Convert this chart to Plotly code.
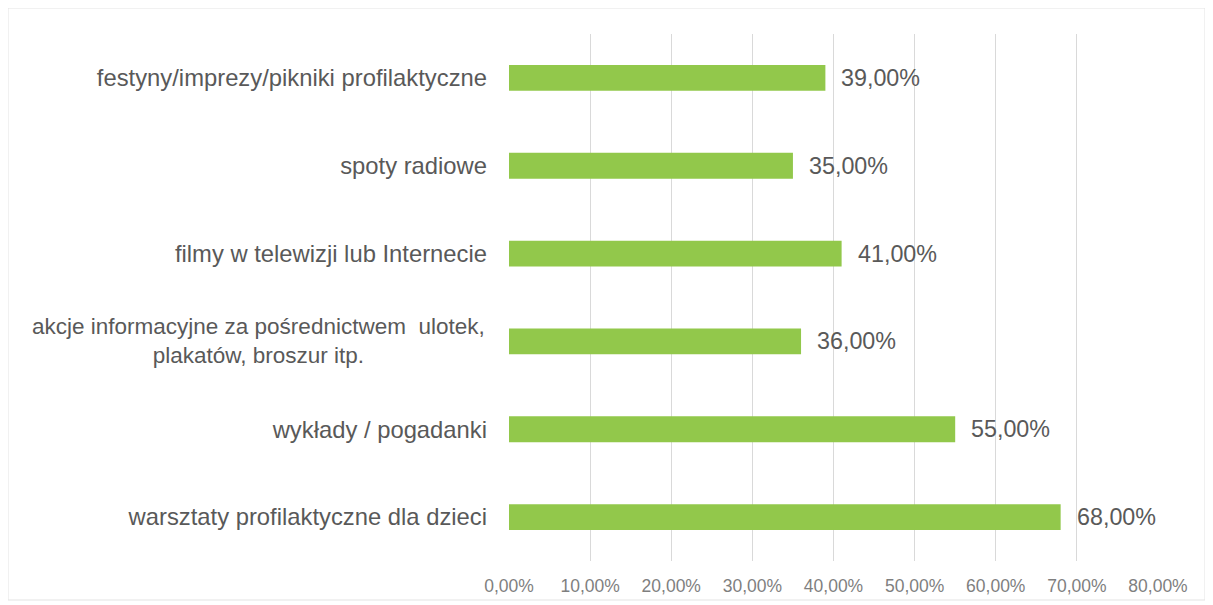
import plotly.graph_objects as go

categories = [
    "festyny/imprezy/pikniki profilaktyczne",
    "spoty radiowe",
    "filmy w telewizji lub Internecie",
    "akcje informacyjne za pośrednictwem  ulotek,<br>plakatów, broszur itp.",
    "wykłady / pogadanki",
    "warsztaty profilaktyczne dla dzieci",
]
values = [39, 35, 41, 36, 55, 68]
value_labels = ["39,00%", "35,00%", "41,00%", "36,00%", "55,00%", "68,00%"]
tick_vals = [0, 10, 20, 30, 40, 50, 60, 70, 80]
tick_text = ["0,00%", "10,00%", "20,00%", "30,00%", "40,00%", "50,00%", "60,00%", "70,00%", "80,00%"]

FONT = "Liberation Sans, Arial, sans-serif"
TXT = "#595959"

# the multi-line label is drawn centred as an annotation; others as tick labels
ylabels = ["" if "<br>" in c else c for c in categories]

fig = go.Figure(go.Bar(
    x=values, y=categories, orientation="h",
    marker=dict(color="#92C84B", line=dict(width=0)),
    hoverinfo="x+y",
))

W, H = 1205, 597
L, R, T, B = 501, 55, 26, 44
pw, ph = W - L - R, H - T - B

fig.update_layout(
    width=W, height=H,
    margin=dict(l=L, r=R, t=T, b=B, autoexpand=False),
    paper_bgcolor="white", plot_bgcolor="white",
    bargap=0.705, showlegend=False,
    font=dict(family=FONT, color=TXT),
)
fig.update_xaxes(
    range=[0, 80], tickvals=tick_vals, ticktext=tick_text,
    showgrid=True, gridcolor="#d9d9d9", gridwidth=1,
    zeroline=False, showline=False,
    tickfont=dict(family=FONT, size=17.5, color="#7f7f7f"),
    ticks="", ticklabelstandoff=12,
)
fig.update_yaxes(
    tickvals=categories, ticktext=ylabels,
    autorange="reversed", showgrid=False, zeroline=False, showline=False,
    tickfont=dict(family=FONT, size=23.8, color=TXT),
    ticks="", ticklabelstandoff=21,
)

for c, v, lab in zip(categories, values, value_labels):
    fig.add_annotation(x=v, y=c, xref="x", yref="y", text=lab, showarrow=False,
                       xanchor="left", yanchor="middle", xshift=14,
                       font=dict(family=FONT, size=23.3, color=TXT))
    if "<br>" in c:
        fig.add_annotation(x=0, y=c, xref="paper", yref="y", text=c, showarrow=False,
                           xanchor="right", yanchor="middle", xshift=-22, align="center",
                           font=dict(family=FONT, size=22.5, color=TXT))

fig.add_shape(type="rect", xref="paper", yref="paper",
              x0=(0 - L) / pw, x1=(W - 8 - L) / pw,
              y0=-(H - 5 - (T + ph)) / ph, y1=1 + T / ph,
              line=dict(color="#e3e3e3", width=1), layer="below")

fig.write_html("out.html")
